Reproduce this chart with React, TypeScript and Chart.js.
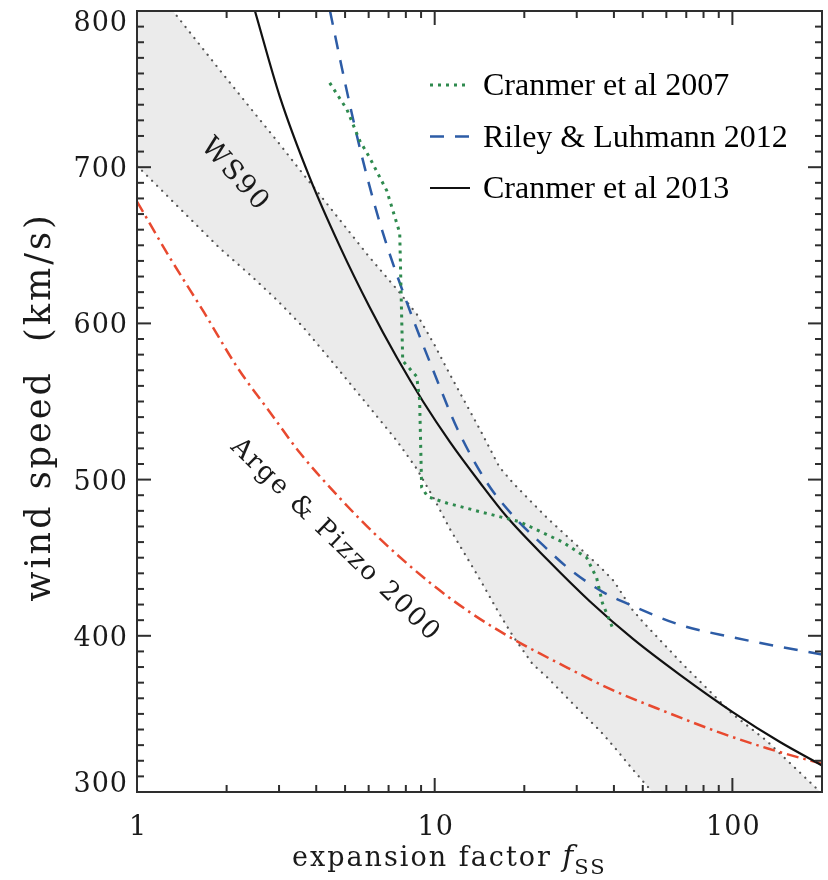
import React, { useEffect, useRef } from 'react';
import { Chart, registerables } from 'chart.js';

Chart.register(...registerables);

// ---- data (expansion factor f_ss vs wind speed km/s) ----
const bandF = [1, 1.32, 1.9, 2.4, 2.95, 3.6, 4.5, 6, 7.45, 8.7, 10, 11.2, 14.2, 16.5, 18.3, 21.3, 24, 30, 36, 40, 46, 50, 68, 100, 130, 190, 200];
const ws90Upper = [829, 800, 762, 738, 717, 696, 673, 643, 622, 606, 586, 568, 532, 508, 498, 485, 475, 458, 444, 435, 417, 409, 382, 350, 333, 303, 299];
const ws90Lower = [701, 678, 648, 631, 615, 598, 576, 547, 525, 507, 487, 469, 436, 414, 400, 382, 373, 354, 339, 329, 315, 307, 278, 240, 215, 179, 174];

const cr2013F = [2.49, 3.02, 3.81, 4.81, 6.06, 7.47, 9.14, 11.26, 14.2, 17.5, 23.84, 33.24, 46.36, 66.68, 100.5, 144.5, 200];
const cr2013V = [800, 745, 693, 649, 610, 578, 550, 524, 498, 476, 449, 422, 398, 375, 351, 332, 317];

const rl2012F = [4.45, 5.0, 5.61, 6.55, 7.83, 10.42, 11.88, 14.99, 18.32, 23.11, 27.82, 36.75, 46.36, 66.68, 100.5, 144.5, 200];
const rl2012V = [800, 754, 712, 664, 620, 559, 533, 498, 477, 458, 444, 428, 419, 407, 399, 393, 388];

const cr2007F = [4.44, 5.07, 5.6, 6.05, 6.9, 7.63, 7.75, 7.81, 8.7, 8.9, 9.04, 9.48, 10.97, 14.5, 19.3, 26.9, 32.4, 35.0, 36.6, 39.6];
const cr2007V = [754, 737, 717, 706, 685, 658, 602, 576, 566, 551, 495, 489, 485, 479, 473, 460, 450, 437, 421, 405];

const ap2000F = [1, 1.29, 1.68, 2.17, 2.8, 3.53, 4.81, 6.55, 9.64, 13.14, 18.32, 26.36, 38.8, 60.3, 90.85, 130.7, 200];
const ap2000V = [678, 642, 607, 572, 543, 517, 488, 462, 434, 415, 398, 382, 366, 351, 338, 328, 318];

const xMajorTicks = [1, 10, 100];
const xMinorTicks = [2, 3, 4, 5, 6, 7, 8, 9, 20, 30, 40, 50, 60, 70, 80, 90];
const yMajorTicks = [300, 400, 500, 600, 700, 800];
const yMinorStep = 10;

const legendLabels = ['Cranmer et al 2007', 'Riley & Luhmann 2012', 'Cranmer et al 2013'];
const curveLabels = ['Arge & Pizzo 2000', 'WS90 lower', 'WS90 upper'];
const textNotes = [
  { text: 'WS90', f: 2.13, v: 695, angle: 48, size: 27 },
  { text: 'Arge & Pizzo 2000', f: 4.63, v: 461, angle: 44, size: 26 },
];

const toXY = (f: number[], v: number[]) => f.map((x, i) => ({ x, y: v[i] }));

const SERIF = '"DejaVu Serif", serif';
const INK = '#1a1a1a';

const decorPlugin = {
  id: 'decor',
  afterDatasetsDraw(chart: any) {
    const { ctx, chartArea: a, scales } = chart;
    const xs = scales.x;
    const ys = scales.y;
    ctx.save();
    // frame
    ctx.strokeStyle = '#2e2e2e';
    ctx.lineWidth = 2;
    ctx.setLineDash([]);
    ctx.strokeRect(a.left, a.top, a.right - a.left, a.bottom - a.top);
    const seg = (x1: number, y1: number, x2: number, y2: number) => {
      ctx.beginPath();
      ctx.moveTo(x1, y1);
      ctx.lineTo(x2, y2);
      ctx.stroke();
    };
    // y ticks
    const yMin = yMajorTicks[0];
    const yMax = yMajorTicks[yMajorTicks.length - 1];
    for (let v = yMin; v <= yMax; v += yMinorStep) {
      const y = ys.getPixelForValue(v);
      const len = yMajorTicks.includes(v) ? 14 : 7;
      seg(a.left, y, a.left + len, y);
      seg(a.right, y, a.right - len, y);
    }
    // x ticks
    const xt = [...xMajorTicks.map((v) => [v, 14]), ...xMinorTicks.map((v) => [v, 7])];
    for (const [v, len] of xt) {
      const x = xs.getPixelForValue(v);
      seg(x, a.bottom, x, a.bottom - len);
      seg(x, a.top, x, a.top + len);
    }
    // tick labels
    ctx.fillStyle = INK;
    ctx.font = `27px ${SERIF}`;
    (ctx as any).letterSpacing = '1px';
    ctx.textBaseline = 'alphabetic';
    ctx.textAlign = 'right';
    for (const v of yMajorTicks) {
      let y = ys.getPixelForValue(v);
      if (v === yMax) y += 10;
      if (v === yMin) y -= 10;
      ctx.fillText(String(v), a.left - 9, y + 10);
    }
    ctx.textAlign = 'center';
    for (const v of xMajorTicks) {
      const x = xs.getPixelForValue(v);
      ctx.fillText(String(v), x + 1, a.bottom + 43);
    }
    // y title
    ctx.save();
    ctx.translate(50, 407);
    ctx.rotate(-Math.PI / 2);
    ctx.font = `35px ${SERIF}`;
    (ctx as any).letterSpacing = '3px';
    ctx.textAlign = 'center';
    ctx.fillText('wind speed  (km/s)', 0, 0);
    ctx.restore();
    // x title
    ctx.textAlign = 'left';
    ctx.font = `27px ${SERIF}`;
    (ctx as any).letterSpacing = '2px';
    let tx = 292;
    const by = 866;
    const t1 = 'expansion factor ';
    ctx.fillText(t1, tx, by);
    tx += ctx.measureText(t1).width;
    ctx.font = `italic 29px ${SERIF}`;
    (ctx as any).letterSpacing = '0px';
    ctx.fillText('f', tx, by);
    tx += ctx.measureText('f').width + 1;
    ctx.font = `21px ${SERIF}`;
    (ctx as any).letterSpacing = '2px';
    ctx.fillText('SS', tx, by + 8);
    // rotated notes
    for (const n of textNotes) {
      const x = xs.getPixelForValue(n.f);
      const y = ys.getPixelForValue(n.v);
      ctx.save();
      ctx.translate(x, y);
      ctx.rotate((n.angle * Math.PI) / 180);
      ctx.font = `${n.size}px ${SERIF}`;
      (ctx as any).letterSpacing = '2px';
      ctx.textAlign = 'center';
      ctx.textBaseline = 'middle';
      ctx.fillText(n.text, 0, 0);
      ctx.restore();
    }
    // legend
    (ctx as any).letterSpacing = '0px';
    ctx.font = '32px "Liberation Serif", serif';
    ctx.textAlign = 'left';
    ctx.textBaseline = 'alphabetic';
    legendLabels.forEach((label, i) => {
      const ds = chart.data.datasets[i];
      const base = a.top + 84 + i * 51.5;
      const ly = base - 10;
      ctx.save();
      ctx.strokeStyle = ds.borderColor;
      ctx.lineWidth = ds.borderWidth;
      ctx.setLineDash(ds.borderDash || []);
      seg(a.left + 293, ly, a.left + 333, ly);
      ctx.restore();
      ctx.fillStyle = '#000';
      ctx.fillText(label, a.left + 346, base);
    });
    ctx.restore();
  },
};

export default function App() {
  const ref = useRef<HTMLCanvasElement | null>(null);
  useEffect(() => {
    document.body.style.margin = '0';
    const canvas = ref.current;
    if (!canvas) return;
    const chart = new Chart(canvas, {
      type: 'line',
      data: {
        datasets: [
          {
            label: legendLabels[0],
            data: toXY(cr2007F, cr2007V),
            borderColor: '#2e8a4e',
            borderWidth: 3,
            borderDash: [3, 5],
            tension: 0,
            pointRadius: 0,
            fill: false,
            order: 1,
          },
          {
            label: legendLabels[1],
            data: toXY(rl2012F, rl2012V),
            borderColor: '#2d5ca6',
            borderWidth: 2.5,
            borderDash: [14, 11],
            cubicInterpolationMode: 'monotone',
            pointRadius: 0,
            fill: false,
            order: 2,
          },
          {
            label: legendLabels[2],
            data: toXY(cr2013F, cr2013V),
            borderColor: '#111111',
            borderWidth: 2.2,
            cubicInterpolationMode: 'monotone',
            pointRadius: 0,
            fill: false,
            order: 3,
          },
          {
            label: curveLabels[0],
            data: toXY(ap2000F, ap2000V),
            borderColor: '#e8492f',
            borderWidth: 2.5,
            borderDash: [12, 5, 2.5, 5],
            cubicInterpolationMode: 'monotone',
            pointRadius: 0,
            fill: false,
            order: 4,
          },
          {
            label: curveLabels[1],
            data: toXY(bandF, ws90Lower),
            borderColor: '#555555',
            borderWidth: 2.2,
            borderDash: [0.1, 7],
            borderCapStyle: 'round',
            tension: 0,
            pointRadius: 0,
            fill: '+1',
            backgroundColor: '#ebebeb',
            order: 5,
          },
          {
            label: curveLabels[2],
            data: toXY(bandF, ws90Upper),
            borderColor: '#555555',
            borderWidth: 2.2,
            borderDash: [0.1, 7],
            borderCapStyle: 'round',
            tension: 0,
            pointRadius: 0,
            fill: false,
            order: 6,
          },
        ] as any,
      },
      options: {
        animation: false,
        responsive: false,
        devicePixelRatio: 1,
        layout: { padding: { left: 137, top: 11, right: 6, bottom: 88 } },
        scales: {
          x: { type: 'logarithmic', min: 1, max: 200, display: false },
          y: { type: 'linear', min: 300, max: 800, display: false },
        },
        plugins: {
          legend: { display: false },
          tooltip: { enabled: false },
          filler: { drawTime: 'beforeDatasetsDraw' },
        } as any,
        events: [],
      },
      plugins: [decorPlugin],
    });
    return () => chart.destroy();
  }, []);
  return (
    <div style={{ width: 828, height: 880, background: '#fff' }}>
      <canvas ref={ref} width={828} height={880} style={{ display: 'block' }} />
    </div>
  );
}
